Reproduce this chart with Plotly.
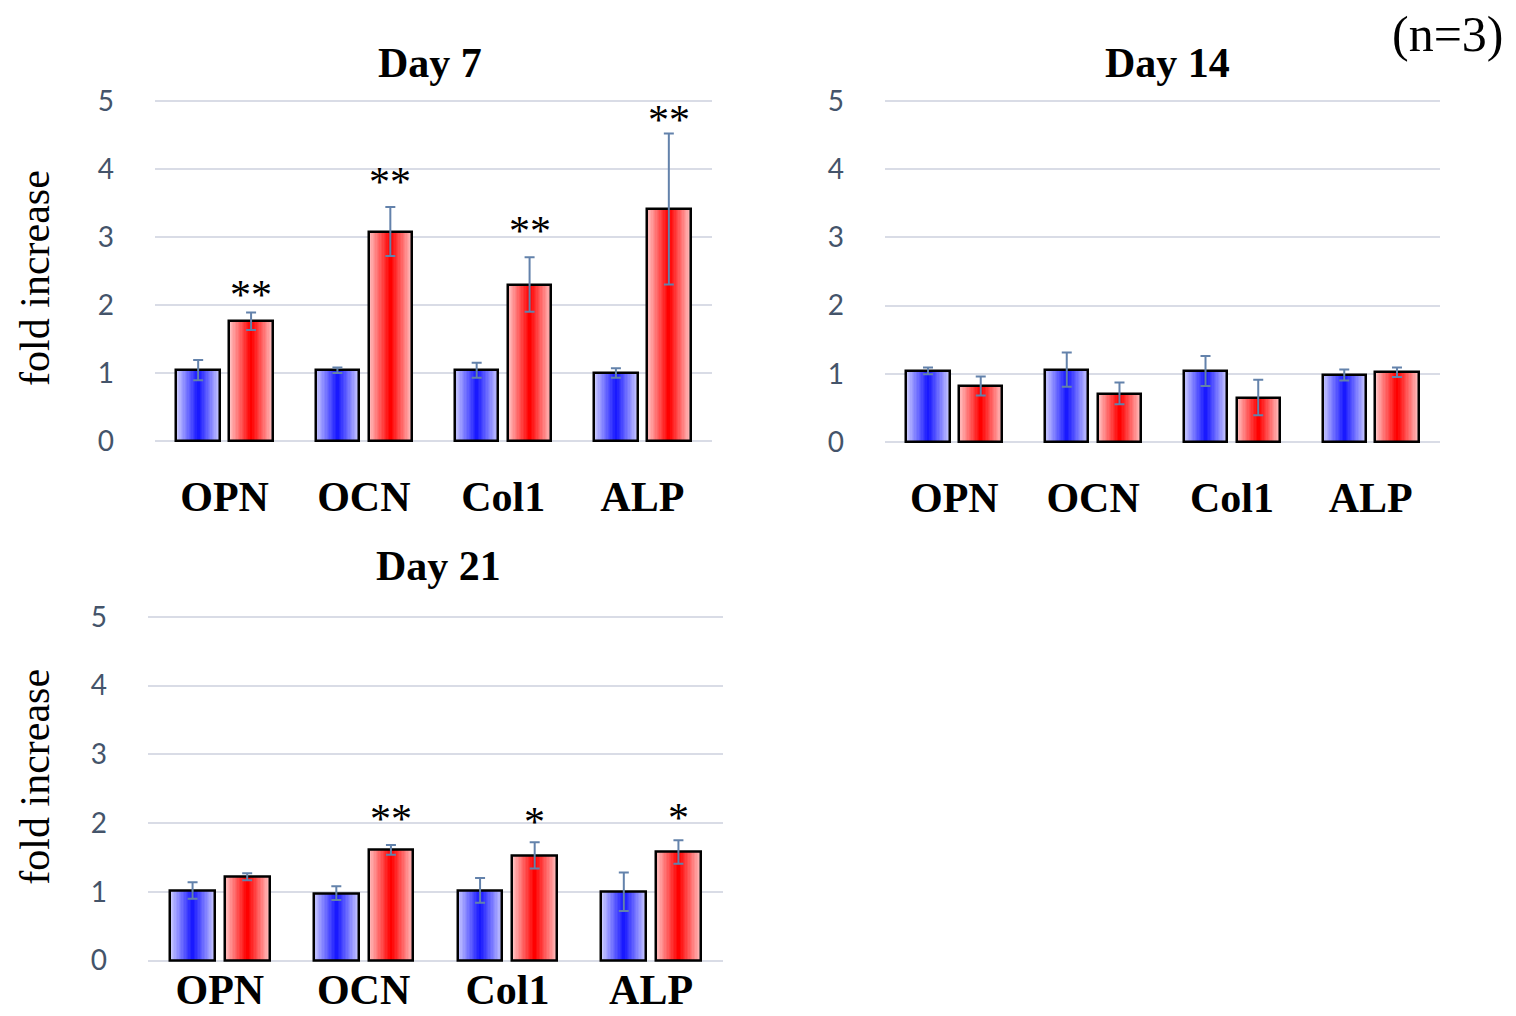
import numpy as np
import plotly.graph_objects as go

# ---------------- data ----------------
genes = ["OPN", "OCN", "Col1", "ALP"]
y_ticks = [0, 1, 2, 3, 4, 5]

day7_ctrl = [1.04, 1.04, 1.04, 1.00]
day7_ctrl_err = [0.15, 0.04, 0.11, 0.07]
day7_trt = [1.76, 3.08, 2.30, 3.41]
day7_trt_err = [0.13, 0.36, 0.40, 1.11]
day7_sig = ["**", "**", "**", "**"]
day7_sig_y = [2.21, 3.86, 3.14, 4.78]

day14_ctrl = [1.04, 1.06, 1.04, 0.98]
day14_ctrl_err = [0.05, 0.25, 0.22, 0.08]
day14_trt = [0.82, 0.71, 0.65, 1.02]
day14_trt_err = [0.14, 0.16, 0.26, 0.07]
day14_sig = ["", "", "", ""]
day14_sig_y = [None, None, None, None]

day21_ctrl = [1.02, 0.98, 1.02, 1.00]
day21_ctrl_err = [0.12, 0.10, 0.18, 0.28]
day21_trt = [1.22, 1.61, 1.53, 1.58]
day21_trt_err = [0.05, 0.07, 0.19, 0.17]
day21_sig = ["", "**", "*", "*"]
day21_sig_y = [None, 2.12, 2.08, 2.13]

titles = ["Day 7", "Day 14", "Day 21"]
y_title = "fold increase"
n_note = "(n=3)"

# ---------------- styling ----------------
BAR_W = 0.312
OFF = 0.19
N_LAYERS = 16
BLUE_EDGE, BLUE_MID = (200, 200, 255), (25, 25, 255)
RED_EDGE, RED_MID = (255, 192, 192), (255, 0, 0)
ERR_COLOR = "#6382ab"
GRID_COLOR = "#d9dce6"
TICK_COLOR = "#44546a"
SERIF = "Liberation Serif"

fig = go.Figure()
xpos = np.arange(len(genes))


def mix(a, b, t):
    return "rgb(%d,%d,%d)" % tuple(round(a[i] + (b[i] - a[i]) * t) for i in range(3))


def add_series(xa, ya, vals, errs, center, edge, mid):
    for k in range(N_LAYERS):
        w = BAR_W * (1 - k / N_LAYERS)
        fig.add_trace(go.Bar(
            x=xpos, y=vals, width=w, offset=center - w / 2,
            marker=dict(color=mix(edge, mid, k / (N_LAYERS - 1)), line=dict(width=0)),
            xaxis=xa, yaxis=ya, showlegend=False, hoverinfo="skip"))
    fig.add_trace(go.Bar(
        x=xpos, y=vals, width=BAR_W, offset=center - BAR_W / 2,
        marker=dict(color="rgba(0,0,0,0)", line=dict(color="black", width=2.5)),
        error_y=dict(type="data", array=errs, color=ERR_COLOR, thickness=2, width=5),
        xaxis=xa, yaxis=ya, showlegend=False, hoverinfo="skip"))


panels = [
    ("x", "y", day7_ctrl, day7_ctrl_err, day7_trt, day7_trt_err, day7_sig, day7_sig_y),
    ("x2", "y2", day14_ctrl, day14_ctrl_err, day14_trt, day14_trt_err, day14_sig, day14_sig_y),
    ("x3", "y3", day21_ctrl, day21_ctrl_err, day21_trt, day21_trt_err, day21_sig, day21_sig_y),
]

annotations = []
for xa, ya, c, ce, t, te, sig, sig_y in panels:
    add_series(xa, ya, c, ce, -OFF, BLUE_EDGE, BLUE_MID)
    add_series(xa, ya, t, te, OFF, RED_EDGE, RED_MID)
    for i, s in enumerate(sig):
        if s:
            annotations.append(dict(
                x=xpos[i] + OFF, y=sig_y[i], xref=xa, yref=ya, text=s, showarrow=False,
                yshift=-4, font=dict(family=SERIF, size=42, color="black")))

# geometry (figure fills the 1516x1016 page)
x_domains = [[0.10224, 0.46966], [0.58377, 0.94987], [0.09763, 0.47691]]
y_domains = [[0.56703, 0.91589], [0.56601, 0.91590], [0.03990, 0.39280]]
x_standoff = [25, 25, -2]
title_pos = [(0.28364, 0.95226), (0.76979, 0.95226), (0.28892, 0.44242)]

layout = dict(
    width=1516, height=1016,
    margin=dict(l=0, r=0, t=0, b=0, pad=0),
    paper_bgcolor="white", plot_bgcolor="white",
    barmode="overlay", bargap=0, showlegend=False,
)
for j, suffix in enumerate(["", "2", "3"]):
    layout["xaxis" + suffix] = dict(
        domain=x_domains[j], anchor="y" + suffix, range=[-0.5, 3.5],
        tickvals=list(xpos), ticktext=genes, showgrid=False, zeroline=False,
        showline=False, ticks="", ticklabelstandoff=x_standoff[j],
        tickfont=dict(family=SERIF, size=42, color="black", weight="bold"),
        fixedrange=True)
    layout["yaxis" + suffix] = dict(
        domain=y_domains[j], anchor="x" + suffix, range=[-0.03, 5.03],
        tickvals=y_ticks, showgrid=True, gridcolor=GRID_COLOR, gridwidth=1.5,
        zeroline=False, showline=False, ticks="", ticklabelstandoff=40,
        tickfont=dict(family="Lato", size=28, color=TICK_COLOR), fixedrange=True)
    annotations.append(dict(
        x=title_pos[j][0], y=title_pos[j][1], xref="paper", yref="paper",
        text=titles[j], showarrow=False, xanchor="center", yanchor="middle",
        font=dict(family=SERIF, size=42, color="black", weight="bold")))

for yy in (0.73435, 0.22854):
    annotations.append(dict(
        x=0.02309, y=yy, xref="paper", yref="paper", text=y_title, textangle=-90,
        showarrow=False, xanchor="center", yanchor="middle",
        font=dict(family=SERIF, size=42, color="black")))

annotations.append(dict(
    x=0.95515, y=0.9813, xref="paper", yref="paper", text=n_note, showarrow=False,
    xanchor="center", yanchor="middle", font=dict(family=SERIF, size=50, color="black")))

layout["annotations"] = annotations
fig.update_layout(**layout)

page_fix = (
    "document.documentElement.style.margin='0';"
    "document.documentElement.style.overflow='hidden';"
    "document.body.style.margin='0';"
    "document.body.style.overflow='hidden';"
)
fig.write_html("out.html", post_script=page_fix, config={"displayModeBar": False})
